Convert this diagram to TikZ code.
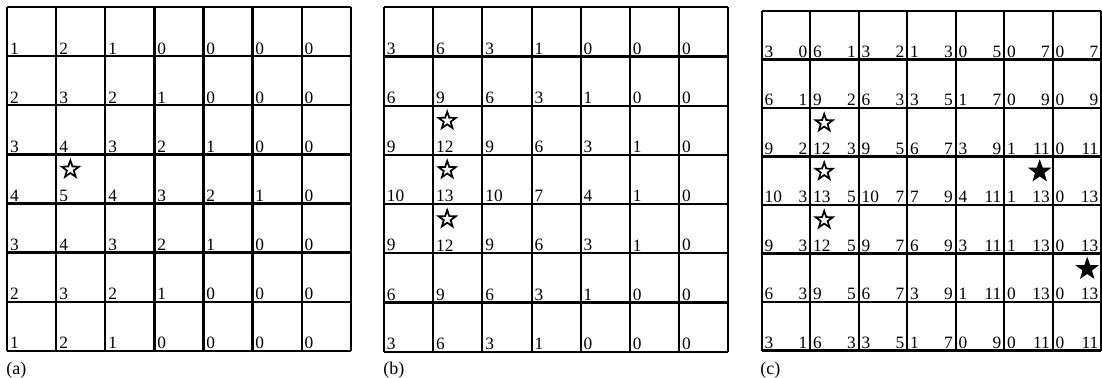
\documentclass[tikz,border=0pt]{standalone}
\usepackage{fontspec}
\setmainfont{Liberation Serif}
\usetikzlibrary{shapes.geometric}
\begin{document}
\begin{tikzpicture}[x=0.75pt,y=-0.75pt,
  cellline/.style={line width=1.6pt},
  num/.style={inner xsep=2pt,inner ysep=1.4pt,font=\fontsize{13}{14}\selectfont},
  panelcap/.style={inner sep=0pt,anchor=base west,font=\fontsize{13.5}{15}\selectfont},
  hollowstar/.style={star,star points=5,star point ratio=2.5,draw,line width=1.3pt,fill=white,minimum size=13.5pt,inner sep=0pt},
  solidstar/.style={hollowstar,fill=black,minimum size=14.5pt}]
  \useasboundingbox (0,0) rectangle (1102,378);
  % (a)
  \foreach \i in {0,...,7} {
    \draw[cellline] (7.3+\i*49.05,7.3) -- (7.3+\i*49.05,350.7);
    \draw[cellline] (7.3,7.3+\i*49.05) -- (350.7,7.3+\i*49.05);
  }
  \foreach \row [count=\r] in {{1,2,1,0,0,0,0},{2,3,2,1,0,0,0},{3,4,3,2,1,0,0},
      {4,5,4,3,2,1,0},{3,4,3,2,1,0,0},{2,3,2,1,0,0,0},{1,2,1,0,0,0,0}}
    \foreach \v [count=\c] in \row
      \node[num,anchor=south west] (a-\r-\c) at (7.3+\c*49.05-49.05,7.3+\r*49.05) {\v};
  \node[hollowstar] (a-star) at (7.3+49.05+14,7.3+3*49.05+15) {};
  \node[panelcap] (a-cap) at (6,374) {(a)};
  % (b)
  \foreach \i in {0,...,7} {
    \draw[cellline] (384+\i*49.2,7.3) -- (384+\i*49.2,351.7);
    \draw[cellline] (384,7.3+\i*49.2) -- (728.4,7.3+\i*49.2);
  }
  \foreach \row [count=\r] in {{3,6,3,1,0,0,0},{6,9,6,3,1,0,0},{9,12,9,6,3,1,0},
      {10,13,10,7,4,1,0},{9,12,9,6,3,1,0},{6,9,6,3,1,0,0},{3,6,3,1,0,0,0}}
    \foreach \v [count=\c] in \row
      \node[num,anchor=south west] (b-\r-\c) at (384+\c*49.2-49.2,7.3+\r*49.2) {\v};
  \foreach \r in {3,4,5}
    \node[hollowstar] (b-star-\r) at (384+49.2+14,7.3+\r*49.2-49.2+15) {};
  \node[panelcap] (b-cap) at (383,374) {(b)};
  % (c)
  \foreach \i in {0,...,7} {
    \draw[cellline] (761.7+\i*48.5,11) -- (761.7+\i*48.5,350.5);
    \draw[cellline] (761.7,11+\i*48.5) -- (1101.2,11+\i*48.5);
  }
  \foreach \row [count=\r] in {{3/0,6/1,3/2,1/3,0/5,0/7,0/7},{6/1,9/2,6/3,3/5,1/7,0/9,0/9},
      {9/2,12/3,9/5,6/7,3/9,1/11,0/11},{10/3,13/5,10/7,7/9,4/11,1/13,0/13},
      {9/3,12/5,9/7,6/9,3/11,1/13,0/13},{6/3,9/5,6/7,3/9,1/11,0/13,0/13},
      {3/1,6/3,3/5,1/7,0/9,0/11,0/11}}
    \foreach \p/\q [count=\c] in \row {
      \node[num,anchor=south west] (c-\r-\c-l) at (761.7+\c*48.5-48.5,11+\r*48.5) {\p};
      \node[num,anchor=south east] (c-\r-\c-r) at (761.7+\c*48.5,11+\r*48.5) {\q};
    }
  \foreach \r in {3,4,5}
    \node[hollowstar] (c-star-\r) at (761.7+48.5+14,11+\r*48.5-48.5+15) {};
  \node[solidstar] (c-solid-1) at (761.7+6*48.5-13,11+3*48.5+15) {};
  \node[solidstar] (c-solid-2) at (761.7+7*48.5-14,11+5*48.5+15.5) {};
  \node[panelcap] (c-cap) at (760,374) {(c)};
\end{tikzpicture}
\end{document}
